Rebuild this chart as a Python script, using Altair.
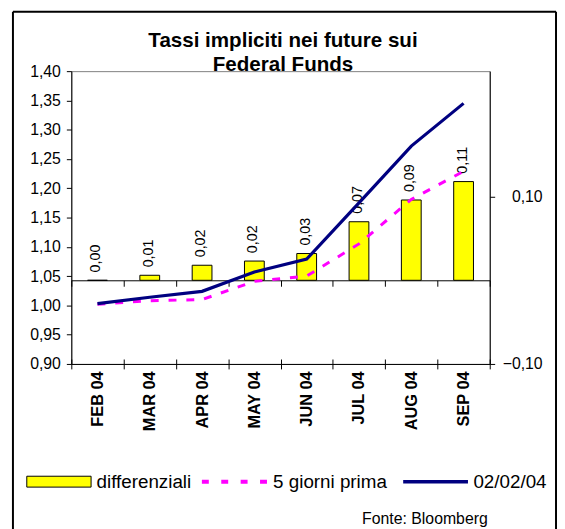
import altair as alt
import pandas as pd

# ---- data ----
months = ["FEB 04", "MAR 04", "APR 04", "MAY 04", "JUN 04", "JUL 04", "AUG 04", "SEP 04"]
rate_0202 = [1.003, 1.014, 1.024, 1.057, 1.079, 1.175, 1.272, 1.345]
rate_5gg = [1.002, 1.008, 1.010, 1.041, 1.050, 1.105, 1.181, 1.229]
diff = [0.000, 0.006, 0.018, 0.023, 0.032, 0.070, 0.096, 0.118]
diff_labels = ["0,00", "0,01", "0,02", "0,02", "0,03", "0,07", "0,09", "0,11"]

left_ticks = [0.90, 0.95, 1.00, 1.05, 1.10, 1.15, 1.20, 1.25, 1.30, 1.35, 1.40]
right_ticks = [-0.10, 0.10]
left_domain = [0.90, 1.40]
right_domain = [-0.10, 0.25]

title_lines = ["Tassi impliciti nei future sui", "Federal Funds"]
legend_labels = ["differenziali", "5 giorni prima", "02/02/04"]
source_note = "Fonte: Bloomberg"

FONT = "Liberation Sans"
W, H = 423, 296

df = pd.DataFrame({"mese": months, "r0202": rate_0202, "r5": rate_5gg,
                   "diff": diff, "lab": diff_labels})
one = pd.DataFrame({"k": [0]})

fmt = "replace(format(datum.value, '.2f'), '.', ',')"
xs = alt.Scale(type="band", domain=months, paddingInner=0, paddingOuter=0)
zero_offset = -H * (0 - right_domain[0]) / (right_domain[1] - right_domain[0])

bottom_axis = alt.Axis(orient="bottom", title=None, labelAngle=270, labelAlign="right",
                       labelBaseline="middle", labelFont=FONT, labelFontSize=16.5,
                       labelFontWeight="bold", labelColor="black", labelPadding=2,
                       tickBand="extent", tickSize=5, tickColor="black",
                       domainColor="black", labelOverlap=False)
zero_axis = alt.Axis(orient="bottom", offset=zero_offset, title=None, labels=False,
                     tickBand="extent", tickSize=6, tickColor="black", domainColor="black")
up_axis = alt.Axis(orient="top", offset=-H, title=None, labels=False, domain=False,
                   tickBand="extent", tickSize=5, tickColor="black")
left_axis = alt.Axis(orient="left", title=None, values=left_ticks, labelExpr=fmt,
                     labelFont=FONT, labelFontSize=16, labelColor="black",
                     tickSize=5, tickColor="black", domainColor="black", labelPadding=6)
right_axis = alt.Axis(orient="right", title=None, values=right_ticks, labelExpr=fmt,
                      labelFont=FONT, labelFontSize=16, labelColor="black",
                      labelAlign="right", labelPadding=48,
                      tickSize=5, tickColor="black", domainColor="black")

yl = alt.Scale(domain=left_domain, nice=False, zero=False)
yr = alt.Scale(domain=right_domain, nice=False, zero=False)

bars = alt.Chart(df).mark_bar(size=20, fill="#FFFF00", stroke="black", strokeWidth=1).encode(
    x=alt.X("mese:N", sort=months, scale=xs, axis=zero_axis),
    y=alt.Y("diff:Q", scale=yr, axis=right_axis),
)
bar_text = alt.Chart(df).mark_text(angle=270, align="left", baseline="middle", dx=8, dy=-1,
                                   font=FONT, fontSize=14.5, color="black").encode(
    x=alt.X("mese:N", sort=months, scale=xs, axis=zero_axis),
    y=alt.Y("diff:Q", scale=yr, axis=right_axis),
    text="lab:N",
)
bar_layer = alt.layer(bars, bar_text)

line5 = alt.Chart(df).mark_line(color="#FF00FF", strokeWidth=3, strokeDash=[8, 10]).encode(
    x=alt.X("mese:N", sort=months, scale=xs, axis=bottom_axis, bandPosition=0.5),
    y=alt.Y("r5:Q", scale=yl, axis=left_axis),
)
line0 = alt.Chart(df).mark_line(color="#000080", strokeWidth=3.2).encode(
    x=alt.X("mese:N", sort=months, scale=xs, axis=bottom_axis, bandPosition=0.5),
    y=alt.Y("r0202:Q", scale=yl, axis=left_axis),
)
line_layer = alt.layer(line5, line0)

tick_layer = alt.Chart(df).mark_point(opacity=0).encode(
    x=alt.X("mese:N", sort=months, scale=xs, axis=up_axis),
)

def txt(s, x, y, size, weight="normal", align="left"):
    return alt.Chart(one).mark_text(font=FONT, fontSize=size, fontWeight=weight, align=align,
                                    baseline="alphabetic", color="black").encode(
        x=alt.value(x), y=alt.value(y), text=alt.value(s))

decor = [
    # outer frame (left, top, right)
    alt.Chart(one).mark_rule(color="black", strokeWidth=2).encode(
        x=alt.value(-59), y=alt.value(-60), y2=alt.value(470)),
    alt.Chart(one).mark_rule(color="black", strokeWidth=2).encode(
        x=alt.value(-59), x2=alt.value(490), y=alt.value(-60)),
    alt.Chart(one).mark_rule(color="black", strokeWidth=2).encode(
        x=alt.value(490), y=alt.value(-60), y2=alt.value(470)),
    # title
    txt(title_lines[0], 214, -24.5, 20.8, "bold", "center"),
    txt(title_lines[1], 214, -0.5, 20.8, "bold", "center"),
    # legend
    alt.Chart(one).mark_rect(fill="#FFFF00", stroke="black", strokeWidth=1).encode(
        x=alt.value(-45), x2=alt.value(20), y=alt.value(409.5), y2=alt.value(420.5)),
    txt(legend_labels[0], 25.5, 421, 19),
    alt.Chart(one).mark_rule(color="#FF00FF", strokeWidth=4, strokeDash=[7, 12.6]).encode(
        x=alt.value(132), x2=alt.value(199), y=alt.value(415)),
    txt(legend_labels[1], 204, 421, 19),
    alt.Chart(one).mark_rule(color="#000080", strokeWidth=3.5).encode(
        x=alt.value(335.5), x2=alt.value(401), y=alt.value(415)),
    txt(legend_labels[2], 406.5, 421, 19),
    txt(source_note, 421, 458, 16, "normal", "right"),
]

chart = alt.layer(bar_layer, line_layer, tick_layer, *decor).resolve_scale(
    y="independent"
).resolve_axis(
    x="independent", y="independent"
).properties(
    width=W, height=H,
    padding={"left": 64, "top": 61, "right": 68, "bottom": 164},
    autosize=alt.AutoSizeParams(type="none"),
    background="white",
).configure_view(stroke="#808080", strokeWidth=1).configure_axis(grid=False)

chart.save("out.html", embed_options={"renderer": "svg", "actions": False})
